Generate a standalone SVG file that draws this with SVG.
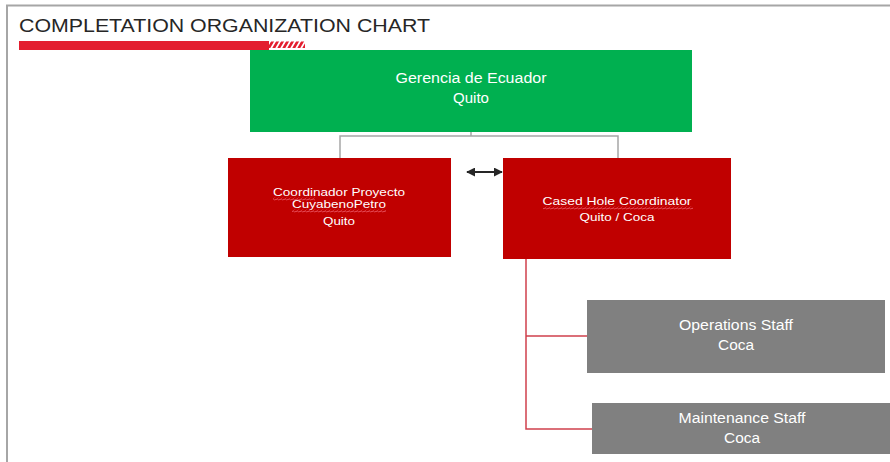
<svg xmlns="http://www.w3.org/2000/svg" width="890" height="462" viewBox="0 0 890 462">
<defs>
<style>
.frame{fill:none;stroke:#a6a6a6;stroke-width:2}
.t{font-family:"Liberation Sans",Arial,sans-serif;fill:#fff;text-anchor:middle}
.title{font-family:"Liberation Sans",Arial,sans-serif;fill:#262626;font-size:19px}
.gray{fill:none;stroke:#a6a6a6;stroke-width:1.5}
.red{fill:none;stroke:#d0404c;stroke-width:1.5}
</style>
<pattern id="hatch" width="5" height="8" patternUnits="userSpaceOnUse" patternTransform="skewX(-30)">
<rect width="5" height="8" fill="#fff"/>
<rect width="3" height="8" fill="#e31e2f"/>
</pattern>
<pattern id="wave" width="4" height="3" patternUnits="userSpaceOnUse">
<path d="M0 2 L1 0.6 L3 2.4 L4 1" fill="none" stroke="#f06070" stroke-width="0.8"/>
</pattern>
<marker id="ah" viewBox="0 0 10 10" refX="9" refY="5" markerWidth="4.5" markerHeight="4.5" orient="auto-start-reverse">
<path d="M0 0 L10 5 L0 10 z" fill="#262626"/>
</marker>
</defs>
<rect width="890" height="462" fill="#fff"/>
<path class="frame" d="M7 462 V5.5 H890"/>
<g id="title">
<text class="title" x="19" y="32" textLength="411" lengthAdjust="spacingAndGlyphs">COMPLETATION ORGANIZATION CHART</text>
<rect x="19" y="41" width="250" height="9" fill="#e31e2f"/>
<rect x="269" y="41.5" width="36" height="6.5" fill="url(#hatch)"/>
</g>
<g id="connectors">
<path class="gray" d="M471 132 V136 M340 158 V136 H618 V158"/>
<line x1="467" y1="172" x2="502" y2="172" stroke="#262626" stroke-width="2" marker-start="url(#ah)" marker-end="url(#ah)"/>
<path class="red" d="M526 259 V429 H592 M526 336 H587"/>
</g>
<g id="gerencia">
<rect x="250" y="50" width="442" height="82" fill="#00b050"/>
<text class="t" x="471" y="83" font-size="14" textLength="151" lengthAdjust="spacingAndGlyphs">Gerencia de Ecuador</text>
<text class="t" x="471" y="103" font-size="14" textLength="36" lengthAdjust="spacingAndGlyphs">Quito</text>
</g>
<g id="coordinador">
<rect x="228" y="158" width="223" height="99" fill="#c00000"/>
<text class="t" x="339" y="196" font-size="11.5" textLength="132" lengthAdjust="spacingAndGlyphs">Coordinador Proyecto</text>
<text class="t" x="339" y="208" font-size="11.5" textLength="94" lengthAdjust="spacingAndGlyphs">CuyabenoPetro</text>
<text class="t" x="339" y="225" font-size="11.5" textLength="32" lengthAdjust="spacingAndGlyphs">Quito</text>
<rect x="273" y="197.5" width="42" height="3" fill="url(#wave)"/>
<rect x="292" y="209.5" width="94" height="3" fill="url(#wave)"/>
</g>
<g id="cased-hole">
<rect x="503" y="158" width="228" height="101" fill="#c00000"/>
<text class="t" x="617" y="205" font-size="11.5" textLength="149" lengthAdjust="spacingAndGlyphs">Cased Hole Coordinator</text>
<text class="t" x="617" y="221" font-size="11.5" textLength="75" lengthAdjust="spacingAndGlyphs">Quito / Coca</text>
<rect x="543" y="206.5" width="150" height="3" fill="url(#wave)"/>
</g>
<g id="operations">
<rect x="587" y="300" width="298" height="73" fill="#808080"/>
<text class="t" x="736" y="330" font-size="14" textLength="114" lengthAdjust="spacingAndGlyphs">Operations Staff</text>
<text class="t" x="736" y="350" font-size="14" textLength="36" lengthAdjust="spacingAndGlyphs">Coca</text>
</g>
<g id="maintenance">
<rect x="592" y="403" width="298" height="51" fill="#808080"/>
<text class="t" x="742" y="423" font-size="14" textLength="127" lengthAdjust="spacingAndGlyphs">Maintenance Staff</text>
<text class="t" x="742" y="443" font-size="14" textLength="36" lengthAdjust="spacingAndGlyphs">Coca</text>
</g>
</svg>
